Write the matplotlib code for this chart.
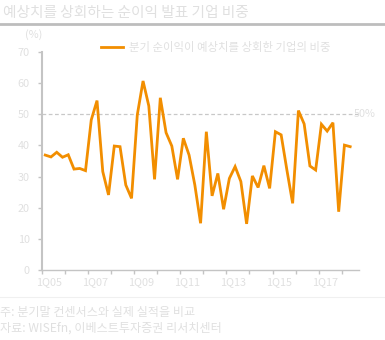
#!/usr/bin/env python3
"""Share of companies beating consensus net-income estimates, quarterly."""

import numpy as np
import matplotlib
matplotlib.use("Agg")
import matplotlib.pyplot as plt
from matplotlib.lines import Line2D

plt.rcParams["font.family"] = ["Noto Sans CJK KR", "DejaVu Sans"]

TITLE = "예상치를 상회하는 순이익 발표 기업 비중"
SERIES_LABEL = "분기 순이익이 예상치를 상회한 기업의 비중"
NOTE = "주: 분기말 컨센서스와 실제 실적을 비교"
SOURCE = "자료: WISEfn, 이베스트투자증권 리서치센터"

# 1Q05 .. 2Q18
beat_share = [
    36.9, 36.3, 37.8, 36.2, 37.0, 32.4, 32.6, 31.9,
    48.2, 54.4, 31.6, 24.1, 39.8, 39.6, 27.3, 23.0,
    49.8, 60.7, 52.7, 29.1, 55.3, 44.1, 39.8, 29.1,
    42.3, 36.9, 27.3, 15.0, 44.4, 23.8, 31.0, 19.5,
    29.4, 33.2, 28.4, 14.8, 30.2, 26.5, 33.5, 26.2,
    44.4, 43.4, 32.1, 21.4, 51.2, 46.9, 33.4, 32.1,
    46.8, 44.6, 47.3, 18.7, 40.1, 39.6,
]
n_categories = 55
tick_labels = ["1Q05", "1Q07", "1Q09", "1Q11", "1Q13", "1Q15", "1Q17"]
threshold = 50

LINE_C = "#F28E00"
TEXT_C = "#e0e0e0"
AXIS_C = "#c4c4c4"

fig = plt.figure(figsize=(3.85, 3.40), dpi=100)
ax = fig.add_axes([0.110, 0.206, 0.822, 0.641])

x = np.arange(len(beat_share))
ax.plot(x, beat_share, color=LINE_C, lw=2.0, solid_joinstyle="miter")
ax.axhline(threshold, color="#c8c8c8", lw=0.9, ls=(0, (3, 2)), zorder=0)
ax.text(n_categories - 1.4, threshold, f"{threshold}%", color=TEXT_C,
        fontsize=7.8, va="center", ha="left")

ax.set_xlim(-0.5, n_categories - 0.5)
ax.set_ylim(0, 70)
ax.set_yticks(range(0, 71, 10))
# year boundaries get tick marks, every second year gets a label
ax.set_xticks(np.arange(-0.5, n_categories - 0.5, 4))
ax.set_xticklabels([])
ax.set_xticks(np.arange(0, n_categories, 8) + 0.7, labels=tick_labels, minor=True)
ax.tick_params(axis="x", which="minor", length=0, pad=5,
               labelsize=7.8, labelcolor=TEXT_C)
ax.tick_params(axis="x", which="major", length=3, color=AXIS_C, width=1)
ax.tick_params(axis="y", length=3, color=AXIS_C, width=1, pad=6,
               labelsize=7.8, labelcolor=TEXT_C)

for side in ("top", "right"):
    ax.spines[side].set_visible(False)
ax.spines["left"].set_color(AXIS_C)
ax.spines["left"].set_linewidth(1.5)
ax.spines["bottom"].set_color(AXIS_C)
ax.spines["bottom"].set_linewidth(1.0)

fig.text(0.087, 0.897, "(%)", color=TEXT_C, fontsize=7.8, ha="center", va="center")

handle = Line2D([], [], color=LINE_C, lw=2.0)
ax.legend([handle], [SERIES_LABEL], loc="upper left",
          bbox_to_anchor=(0.170, 1.065), frameon=False, fontsize=8.2,
          labelcolor=TEXT_C, handlelength=2.0, handletextpad=0.5,
          borderaxespad=0)

# header and footer
fig.text(0.008, 0.962, TITLE, color=TEXT_C, fontsize=10.6, ha="left", va="center")
fig.add_artist(Line2D([0, 1], [0.929, 0.929], color="#bdbdbd", lw=2.0,
                      transform=fig.transFigure))
fig.add_artist(Line2D([0, 1], [0.127, 0.127], color="#f0f0f0", lw=0.8,
                      transform=fig.transFigure))
fig.text(0.0, 0.081, NOTE, color=TEXT_C, fontsize=8.7, ha="left", va="center")
fig.text(0.0, 0.035, SOURCE, color=TEXT_C, fontsize=8.7, ha="left", va="center")

fig.savefig("out.png", dpi=100)
